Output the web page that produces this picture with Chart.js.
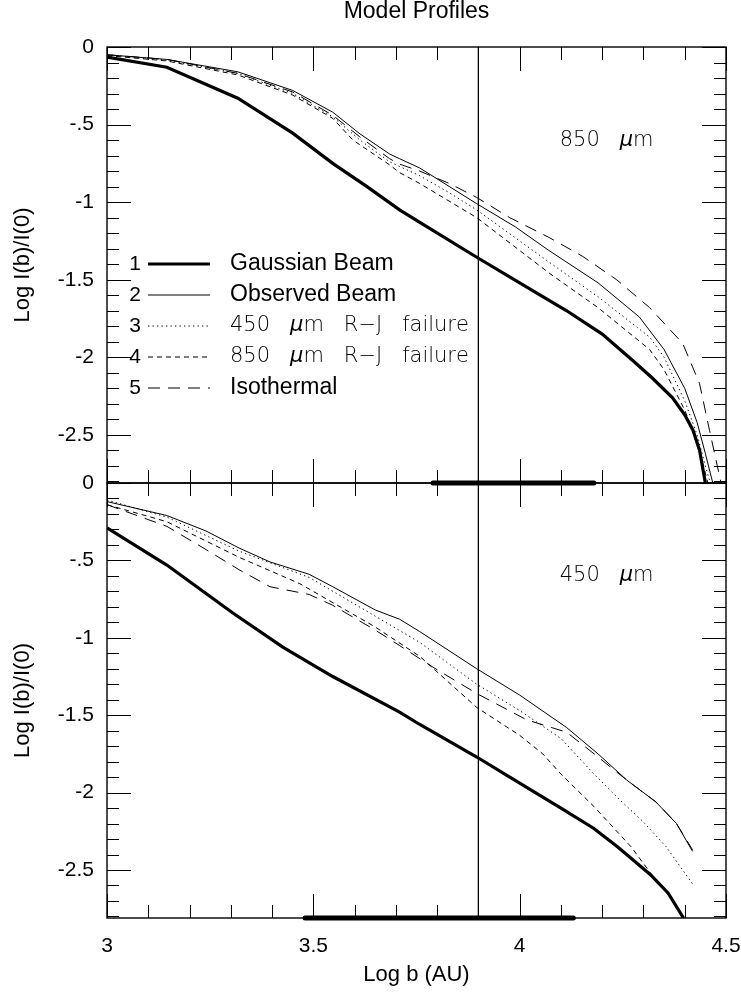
<!DOCTYPE html>
<html>
<head>
<meta charset="utf-8">
<title>Model Profiles</title>
<script src="https://cdn.jsdelivr.net/npm/chart.js@4.4.1/dist/chart.umd.min.js"></script>
<style>
  body { margin: 0; background: #fff; }
  #wrap { position: relative; width: 741px; height: 995px; background: #fff; }
  canvas { position: absolute; left: 0; }
  #top-chart { top: 0; }
  #bottom-chart { top: 470px; }
</style>
</head>
<body>
<div id="wrap">
  <canvas id="top-chart" width="741" height="490"></canvas>
  <canvas id="bottom-chart" width="741" height="525"></canvas>
</div>
<script>
//Tick labels
const xTickValues = [3, 3.5, 4, 4.5];
const xTickLabels = ['3', '3.5', '4', '4.5'];
const yTickValues = [0, -0.5, -1, -1.5, -2, -2.5];
const yTickLabels = ['0', '-.5', '-1', '-1.5', '-2', '-2.5'];

const seriesNames = ['Gaussian Beam', 'Observed Beam', '450 μm R−J failure', '850 μm R−J failure', 'Isothermal'];

//850 micron profiles (log b, log I(b)/I(0))
const gauss850B = [3.00, 3.145, 3.317, 3.45, 3.547, 3.63, 3.709, 3.758, 3.896, 4.00, 4.114, 4.20, 4.274, 4.32, 4.37, 4.40, 4.42, 4.436, 4.45];
const gauss850I = [-0.065, -0.13, -0.33, -0.555, -0.75, -0.90, -1.05, -1.13, -1.355, -1.52, -1.70, -1.85, -2.02, -2.13, -2.26, -2.37, -2.47, -2.60, -2.81];

const obs850B = [3.00, 3.145, 3.317, 3.45, 3.547, 3.613, 3.685, 3.709, 3.758, 3.83, 3.896, 3.99, 4.07, 4.19, 4.29, 4.35, 4.40, 4.43, 4.45, 4.468];
const obs850I = [-0.05, -0.08, -0.16, -0.28, -0.42, -0.56, -0.69, -0.72, -0.78, -0.90, -1.01, -1.16, -1.31, -1.52, -1.74, -1.95, -2.20, -2.42, -2.62, -2.81];

const rj450at850B = [3.00, 3.145, 3.317, 3.45, 3.547, 3.613, 3.685, 3.709, 3.758, 3.83, 3.896, 4.073, 4.19, 4.315, 4.35, 4.40, 4.43, 4.45, 4.462];
const rj450at850I = [-0.05, -0.085, -0.17, -0.30, -0.45, -0.60, -0.74, -0.77, -0.83, -0.94, -1.05, -1.39, -1.61, -1.87, -2.00, -2.28, -2.50, -2.70, -2.81];

const rj850at850B = [3.00, 3.145, 3.317, 3.45, 3.547, 3.596, 3.685, 3.709, 3.758, 3.896, 4.073, 4.19, 4.315, 4.35, 4.40, 4.43, 4.456];
const rj850at850I = [-0.055, -0.09, -0.18, -0.31, -0.46, -0.60, -0.76, -0.81, -0.88, -1.10, -1.46, -1.68, -1.95, -2.08, -2.34, -2.54, -2.81];

const iso850B = [3.00, 3.145, 3.317, 3.45, 3.547, 3.613, 3.685, 3.709, 3.758, 3.83, 3.896, 3.976, 4.073, 4.153, 4.235, 4.315, 4.395, 4.436, 4.46, 4.488];
const iso850I = [-0.05, -0.08, -0.17, -0.29, -0.44, -0.58, -0.72, -0.755, -0.80, -0.88, -0.97, -1.10, -1.23, -1.35, -1.50, -1.68, -1.91, -2.17, -2.47, -2.81];

//450 micron profiles
const gauss450B = [3.00, 3.145, 3.305, 3.426, 3.547, 3.709, 3.758, 3.896, 3.976, 4.10, 4.179, 4.237, 4.317, 4.36, 4.397];
const gauss450I = [-0.29, -0.53, -0.84, -1.06, -1.25, -1.48, -1.56, -1.77, -1.90, -2.10, -2.23, -2.35, -2.53, -2.65, -2.81];

const obs450B = [3.00, 3.145, 3.24, 3.32, 3.395, 3.49, 3.547, 3.65, 3.709, 3.758, 3.896, 4.00, 4.114, 4.19, 4.26, 4.33, 4.38, 4.419];
const obs450I = [-0.12, -0.21, -0.31, -0.42, -0.51, -0.59, -0.67, -0.82, -0.88, -0.96, -1.20, -1.37, -1.58, -1.75, -1.92, -2.06, -2.20, -2.38];

const rj450at450B = [3.00, 3.145, 3.32, 3.49, 3.65, 3.758, 3.896, 4.00, 4.10, 4.18, 4.24, 4.30, 4.355, 4.419];
const rj450at450I = [-0.11, -0.22, -0.44, -0.61, -0.86, -1.03, -1.30, -1.47, -1.65, -1.88, -2.04, -2.19, -2.35, -2.59];

const rj850at450B = [3.00, 3.145, 3.32, 3.467, 3.65, 3.758, 3.896, 4.00, 4.056, 4.10, 4.18, 4.27, 4.32, 4.36, 4.397];
const rj850at450I = [-0.14, -0.25, -0.48, -0.65, -0.93, -1.12, -1.45, -1.63, -1.75, -1.88, -2.09, -2.35, -2.53, -2.66, -2.81];

const iso450B = [3.00, 3.145, 3.24, 3.32, 3.395, 3.49, 3.547, 3.65, 3.709, 3.79, 3.896, 4.017, 4.114, 4.19, 4.26, 4.33, 4.38, 4.419];
const iso450I = [-0.14, -0.28, -0.43, -0.56, -0.67, -0.72, -0.79, -0.95, -1.05, -1.19, -1.36, -1.53, -1.61, -1.77, -1.92, -2.06, -2.20, -2.37];

//marker line and range bars along the lower axis
const markerLogB = 3.9;
const range850 = [3.79, 4.18];
const range450 = [3.48, 4.13];

const logIMin = -2.81;
const logIMax = 0;

//line styles: thick, solid, dotted, short dash, long dash
const lineWidths = [3.2, 1, 1, 1, 1];
const lineDashes = [[], [], [1.3, 3.2], [5, 4], [12, 8]];

Chart.defaults.font.family = '"Liberation Sans", Arial, Helvetica, sans-serif';
Chart.defaults.color = '#000';

function profile(k, xs, ys) {
  return {
    label: seriesNames[k],
    data: xs.map((x, i) => ({ x: x, y: ys[i] })),
    borderColor: '#000',
    borderWidth: lineWidths[k],
    borderDash: lineDashes[k],
    pointRadius: 0,
    tension: 0,
    fill: false
  };
}

function straight(points, width) {
  return {
    label: '',
    data: points,
    borderColor: '#000',
    borderWidth: width,
    borderCapStyle: 'round',
    pointRadius: 0,
    clip: false,
    fill: false
  };
}

// text like '450 μm R−J failure': wide word gaps, mu set in italic
function drawMixed(ctx, text, x, y, size) {
  let cx = x;
  ctx.textAlign = 'left';
  ctx.textBaseline = 'middle';
  for (const word of text.split(' ')) {
    for (const ch of word) {
      ctx.font = (ch === 'μ' ? 'italic ' : '') + '200 ' + size + 'px "DejaVu Sans"';
      ctx.fillText(ch, cx, y);
      cx += ctx.measureText(ch).width;
    }
    cx += size * 0.95;
  }
}

//frame with inward ticks every 0.1
const framePlugin = {
  id: 'frame',
  afterDatasetsDraw(chart) {
    const { ctx, chartArea: a } = chart;
    const x = chart.scales.x;
    const y = chart.scales.y;
    ctx.save();
    ctx.strokeStyle = '#000';
    ctx.lineWidth = 1;
    ctx.setLineDash([]);
    ctx.beginPath();
    for (let k = 30; k <= 45; k++) {
      const px = Math.round(x.getPixelForValue(k / 10)) + 0.5;
      const len = k % 5 === 0 ? 24 : 13;
      ctx.moveTo(px, a.top);
      ctx.lineTo(px, a.top + len);
      ctx.moveTo(px, a.bottom);
      ctx.lineTo(px, a.bottom - len);
    }
    for (let k = 0; k >= -28; k--) {
      const py = Math.round(y.getPixelForValue(k / 10)) + 0.5;
      const len = k % 5 === 0 ? 24 : 12;
      ctx.moveTo(a.left, py);
      ctx.lineTo(a.left + len, py);
      ctx.moveTo(a.right, py);
      ctx.lineTo(a.right - len, py);
    }
    ctx.stroke();
    ctx.lineWidth = 1.4;
    ctx.strokeRect(a.left, a.top, a.right - a.left, a.bottom - a.top);
    ctx.restore();
  }
};

//wavelength label, plus the numbered key on the upper panel
const textPlugin = {
  id: 'panelText',
  afterDraw(chart, args, opts) {
    const { ctx } = chart;
    const x = chart.scales.x;
    const y = chart.scales.y;
    ctx.save();
    ctx.fillStyle = '#000';
    drawMixed(ctx, opts.band, x.getPixelForValue(4.097), y.getPixelForValue(-0.6), 21);

    if (opts.key) {
      const left = chart.chartArea.left;
      for (let i = 0; i < seriesNames.length; i++) {
        const ry = 264 + i * 31;
        ctx.textAlign = 'center';
        ctx.textBaseline = 'middle';
        ctx.font = '21px "Liberation Sans"';
        ctx.fillText(String(i + 1), left + 28, ry);

        ctx.beginPath();
        ctx.lineWidth = lineWidths[i];
        ctx.setLineDash(lineDashes[i]);
        ctx.moveTo(left + 41, ry);
        ctx.lineTo(left + 103, ry);
        ctx.strokeStyle = '#000';
        ctx.stroke();
        ctx.setLineDash([]);

        if (seriesNames[i].includes('μ')) {
          drawMixed(ctx, seriesNames[i], left + 123, ry, 21);
        } else {
          ctx.textAlign = 'left';
          ctx.font = '23px "Liberation Sans"';
          ctx.fillText(seriesNames[i], left + 123, ry);
        }
      }
    }
    ctx.restore();
  }
};

function panelScales(showX) {
  return {
    x: {
      type: 'linear',
      min: xTickValues[0],
      max: xTickValues[xTickValues.length - 1],
      display: showX,
      grid: { display: false, drawTicks: false },
      border: { display: false },
      ticks: {
        stepSize: 0.5,
        padding: 16,
        maxRotation: 0,
        font: { size: 21 },
        callback: v => {
          const i = xTickValues.indexOf(v);
          return i < 0 ? '' : xTickLabels[i];
        }
      },
      title: {
        display: true,
        text: 'Log b (AU)',
        font: { size: 22 },
        padding: { top: 0, bottom: 7 }
      },
      afterFit: s => { s.height = showX ? 77 : 0; s.paddingLeft = 0; s.paddingRight = 0; }
    },
    y: {
      type: 'linear',
      min: logIMin,
      max: logIMax,
      grid: { display: false, drawTicks: false },
      border: { display: false },
      ticks: {
        stepSize: 0.5,
        includeBounds: false,
        padding: 13,
        font: { size: 21 },
        callback: v => {
          const i = yTickValues.findIndex(t => Math.abs(t - v) < 1e-6);
          return i < 0 ? '' : yTickLabels[i];
        }
      },
      title: {
        display: true,
        text: 'Log I(b)/I(0)',
        font: { size: 22 },
        padding: { top: 10, bottom: 0 }
      },
      afterFit: s => { s.width = 107; s.paddingTop = 0; s.paddingBottom = 0; }
    }
  };
}

function panelDatasets(curves, range) {
  const sets = curves.map((c, k) => profile(k, c[0], c[1]));
  sets.push(straight([{ x: markerLogB, y: logIMax }, { x: markerLogB, y: logIMin }], 1));
  sets.push(straight([{ x: range[0], y: logIMin }, { x: range[1], y: logIMin }], 5));
  return sets;
}

new Chart(document.getElementById('top-chart'), {
  type: 'line',
  data: {
    datasets: panelDatasets([
      [gauss850B, gauss850I],
      [obs850B, obs850I],
      [rj450at850B, rj450at850I],
      [rj850at850B, rj850at850I],
      [iso850B, iso850I]
    ], range850)
  },
  options: {
    responsive: false,
    animation: false,
    events: [],
    layout: { padding: { top: 0, left: 0, right: 15, bottom: 7 } },
    scales: panelScales(false),
    plugins: {
      legend: { display: false },
      tooltip: { enabled: false },
      title: {
        display: true,
        text: 'Model Profiles',
        fullSize: false,
        color: '#000',
        font: { size: 23, weight: 'normal', lineHeight: 1 },
        padding: { top: 0, bottom: 24 }
      },
      panelText: { band: '850 μm', key: true }
    }
  },
  plugins: [framePlugin, textPlugin]
});

new Chart(document.getElementById('bottom-chart'), {
  type: 'line',
  data: {
    datasets: panelDatasets([
      [gauss450B, gauss450I],
      [obs450B, obs450I],
      [rj450at450B, rj450at450I],
      [rj850at450B, rj850at450I],
      [iso450B, iso450I]
    ], range450)
  },
  options: {
    responsive: false,
    animation: false,
    events: [],
    layout: { padding: { top: 13, left: 0, right: 15, bottom: 0 } },
    scales: panelScales(true),
    plugins: {
      legend: { display: false },
      tooltip: { enabled: false },
      panelText: { band: '450 μm', key: false }
    }
  },
  plugins: [framePlugin, textPlugin]
});
</script>
</body>
</html>
